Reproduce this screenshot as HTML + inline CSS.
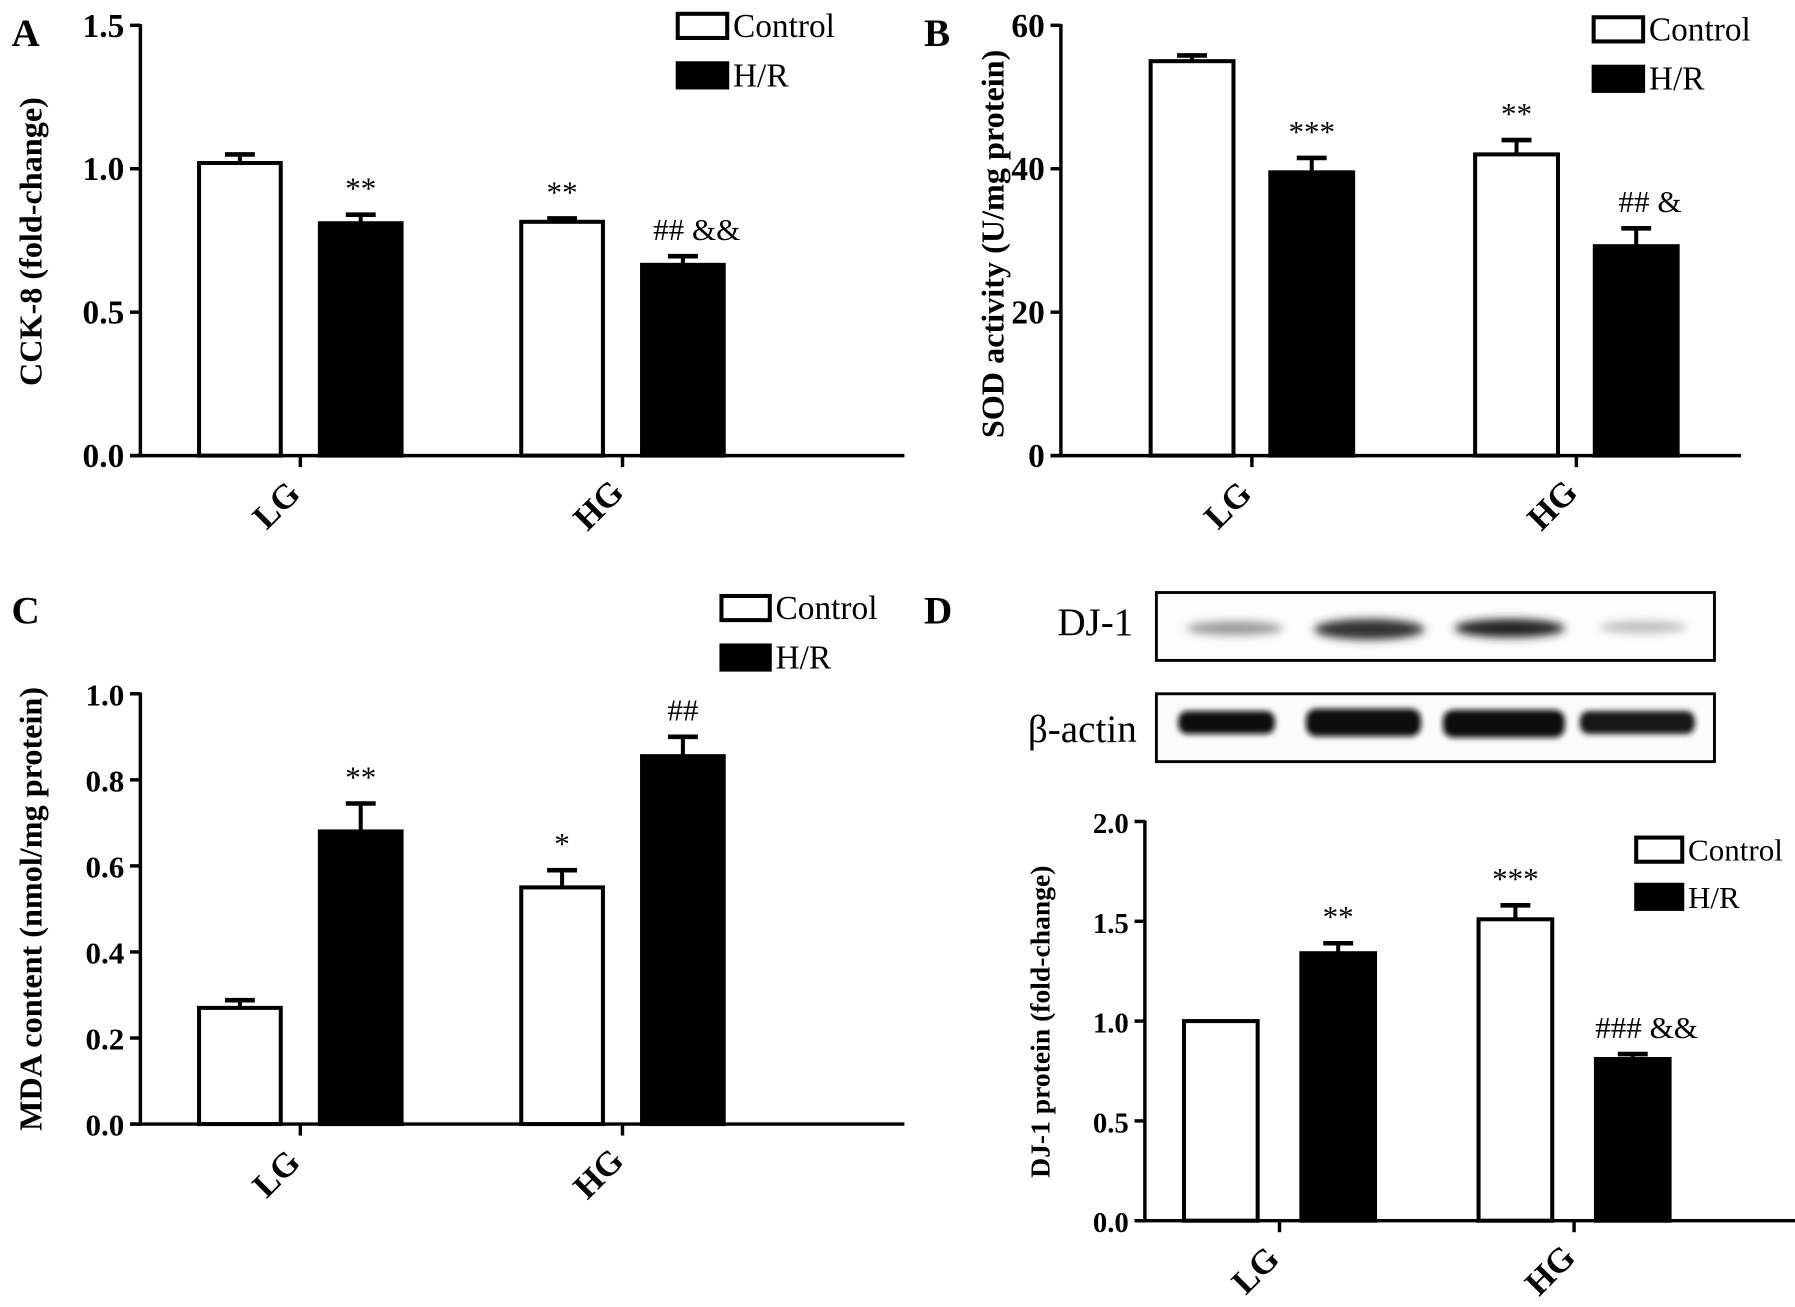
<!DOCTYPE html>
<html><head><meta charset="utf-8"><style>
html,body{margin:0;padding:0;background:#fff;}
svg{display:block;font-family:"Liberation Serif",serif;}
</style></head><body>
<svg id="fig" width="1795" height="1307" viewBox="0 0 1560 1136" preserveAspectRatio="none" xmlns="http://www.w3.org/2000/svg">
<rect width="1560" height="1136" fill="#fff"/>
<g>
<defs>
<filter id="blur1" x="-20%" y="-50%" width="140%" height="200%"><feGaussianBlur stdDeviation="4"/></filter>
<filter id="blur2" x="-20%" y="-50%" width="140%" height="200%"><feGaussianBlur stdDeviation="2.5"/></filter>
</defs>
<text x="985" y="552" text-anchor="end" font-size="34">DJ-1</text>
<text x="988" y="645" text-anchor="end" font-size="34">β-actin</text>
<rect x="1005" y="515" width="485" height="59" fill="#fdfdfd" stroke="#000" stroke-width="2.5"/>
<rect x="1005" y="603" width="485" height="59" fill="#fbfbfb" stroke="#000" stroke-width="2.5"/>
<g filter="url(#blur1)">
<ellipse cx="1073" cy="546" rx="42" ry="6" fill="#999"/>
<ellipse cx="1190" cy="547" rx="48" ry="9" fill="#333"/>
<ellipse cx="1312" cy="546" rx="48" ry="8" fill="#222"/>
<ellipse cx="1428" cy="545" rx="38" ry="5" fill="#bbb"/>
</g>
<g filter="url(#blur2)">
<rect x="1024" y="618" width="84" height="20" rx="8" fill="#111"/>
<rect x="1135" y="616" width="100" height="24" rx="9" fill="#0a0a0a"/>
<rect x="1254" y="617" width="106" height="24" rx="9" fill="#111"/>
<rect x="1373" y="618" width="100" height="20" rx="8" fill="#151515"/>
</g>
</g>
<g id="panels"></g>
</svg>
<script>
// Panel A
const catsA = ["LG","HG"];
const ctrlA = [1.02, 0.815];
const hrA = [0.81, 0.665];
const ctrlErrA = [0.03, 0.012];
const hrErrA = [0.03, 0.03];
const ticksA = ["0.0","0.5","1.0","1.5"];
const sigCtrlA = ["", "**"];
const sigHrA = ["**", "## &&"];
// Panel B
const catsB = ["LG","HG"];
const ctrlB = [55, 42];
const hrB = [39.5, 29.2];
const ctrlErrB = [0.8, 2];
const hrErrB = [2, 2.5];
const ticksB = ["0","20","40","60"];
const sigCtrlB = ["", "**"];
const sigHrB = ["***", "## &"];
// Panel C
const catsC = ["LG","HG"];
const ctrlC = [0.27, 0.55];
const hrC = [0.68, 0.855];
const ctrlErrC = [0.018, 0.04];
const hrErrC = [0.065, 0.045];
const ticksC = ["0.0","0.2","0.4","0.6","0.8","1.0"];
const sigCtrlC = ["", "*"];
const sigHrC = ["**", "##"];
// Panel D
const catsD = ["LG","HG"];
const ctrlD = [1.0, 1.51];
const hrD = [1.34, 0.81];
const ctrlErrD = [0, 0.07];
const hrErrD = [0.05, 0.025];
const ticksD = ["0.0","0.5","1.0","1.5","2.0"];
const sigCtrlD = ["", "***"];
const sigHrD = ["**", "### &&"];

const NS = "http://www.w3.org/2000/svg";
const root = document.getElementById("panels");
function mk(tag, attrs, parent, text){
  const e = document.createElementNS(NS, tag);
  for (const k in attrs) e.setAttribute(k, attrs[k]);
  if (text !== undefined) e.textContent = text;
  (parent||root).appendChild(e);
  return e;
}
function panel(cfg){
  const g = mk("g", {});
  
  
  const ymax = parseFloat(cfg.ticks[cfg.ticks.length-1]);
  const y = v => cfg.y0 - (v / ymax) * (cfg.y0 - cfg.ytop);
  const L = mk("text", {x: cfg.letterX, y: cfg.letterY, "font-size": 34, "font-weight": "bold"}, g, cfg.letter);
  
  
  const bw = cfg.barW;
  cfg.cats.forEach((c, i) => {
    const cx = cfg.groupX[i];
    const series = [[cfg.ctrl, cfg.ctrlErr, "#fff", -1, cfg.sigCtrl, "control"], [cfg.hr, cfg.hrErr, "#000", 1, cfg.sigHr, "hr"]];
    series.forEach(s => {
      const vals = s[0], errs = s[1];
      const x0 = s[3] < 0 ? cx - cfg.gap/2 - bw : cx + cfg.gap/2;
      const top = y(vals[i]);
      if (errs[i] > 0) {
        const et = y(vals[i] + errs[i]);
        const el = mk("line", {x1: x0 + bw/2, x2: x0 + bw/2, y1: top, y2: et, stroke: "#000", "stroke-width": 3.5}, g);
        
        
        const cap = mk("line", {x1: x0 + bw/2 - 13, x2: x0 + bw/2 + 13, y1: et, y2: et, stroke: "#000", "stroke-width": 4}, g);
        
        
      }
      const r = mk("rect", {x: x0, y: top, width: bw, height: cfg.y0 - top, fill: s[2], stroke: "#000", "stroke-width": 3.5}, g);
      
      
      if (s[4][i]) {
        const et = y(vals[i] + errs[i]);
        const t = mk("text", {x: x0 + bw/2 + (s[4][i].length > 3 ? 12 : 0), y: et - 14, "text-anchor": "middle", "font-size": 27}, g, s[4][i]);
        
        
      }
    });
    const tk = mk("line", {x1: cx, x2: cx, y1: cfg.y0, y2: cfg.y0 + 10, stroke: "#000", "stroke-width": 3}, g);
    
    
    const lx = cx - 14, ly = cfg.y0 + 50;
    const lt = mk("text", {x: lx, y: ly, "text-anchor": "middle", "font-size": 30, "font-weight": "bold", transform: "rotate(-45 " + lx + " " + ly + ")"}, g, c);
    
    
  });
  const ya = mk("line", {x1: cfg.ax, x2: cfg.ax, y1: cfg.ytop - 1, y2: cfg.y0 + 1.5, stroke: "#000", "stroke-width": 3}, g);
  
  
  const xa = mk("line", {x1: cfg.ax - 9, x2: cfg.axEnd, y1: cfg.y0, y2: cfg.y0, stroke: "#000", "stroke-width": 3}, g);
  
  
  cfg.ticks.forEach(tv => {
    const yy = y(parseFloat(tv));
    const tl = mk("line", {x1: cfg.ax - 9, x2: cfg.ax, y1: yy, y2: yy, stroke: "#000", "stroke-width": 3}, g);
    
    
    const tt = mk("text", {x: cfg.ax - 14, y: yy + 10, "text-anchor": "end", "font-size": cfg.tickFs, "font-weight": "bold"}, g, tv);
    
    
  });
  const yl = mk("text", {x: cfg.ylx, y: cfg.yly, "text-anchor": "middle", "font-size": cfg.ylFs, "font-weight": "bold", transform: "rotate(-90 " + cfg.ylx + " " + cfg.yly + ")"}, g, cfg.ylabel);
  
  
  [["Control", "#fff", 0], ["H/R", "#000", 1]].forEach(le => {
    const ly = cfg.legY + le[2] * cfg.legDy;
    const lg = mk("g", {}, g);
    
    
    mk("rect", {x: cfg.legX, y: ly, width: cfg.legW, height: 21, fill: le[1], stroke: "#000", "stroke-width": 3.5}, lg);
    mk("text", {x: cfg.legX + cfg.legW + 5, y: ly + 20, "font-size": cfg.legFs}, lg, le[0]);
  });
}
panel({id: "panel-a-cck8", letter: "A", letterX: 10, letterY: 40, cats: catsA, ctrl: ctrlA, hr: hrA, ctrlErr: ctrlErrA, hrErr: hrErrA, sigCtrl: sigCtrlA, sigHr: sigHrA, ticks: ticksA,
  ax: 122, axEnd: 786, y0: 396, ytop: 22, barW: 71, gap: 34, groupX: [261, 541], tickFs: 29, ylabel: "CCK-8 (fold-change)", ylx: 36, yly: 210, ylFs: 28,
  legX: 589, legY: 12, legDy: 43, legW: 43, legFs: 29});
panel({id: "panel-b-sod", letter: "B", letterX: 803, letterY: 40, cats: catsB, ctrl: ctrlB, hr: hrB, ctrlErr: ctrlErrB, hrErr: hrErrB, sigCtrl: sigCtrlB, sigHr: sigHrB, ticks: ticksB,
  ax: 922, axEnd: 1513, y0: 396, ytop: 22, barW: 72, gap: 32, groupX: [1088, 1370], tickFs: 29, ylabel: "SOD activity (U/mg protein)", ylx: 872, yly: 212, ylFs: 28,
  legX: 1385, legY: 15, legDy: 43, legW: 43, legFs: 29});
panel({id: "panel-c-mda", letter: "C", letterX: 10, letterY: 542, cats: catsC, ctrl: ctrlC, hr: hrC, ctrlErr: ctrlErrC, hrErr: hrErrC, sigCtrl: sigCtrlC, sigHr: sigHrC, ticks: ticksC,
  ax: 122, axEnd: 786, y0: 977, ytop: 603, barW: 71, gap: 34, groupX: [261, 541], tickFs: 27, ylabel: "MDA content (nmol/mg protein)", ylx: 36, yly: 790, ylFs: 28,
  legX: 627, legY: 518, legDy: 43, legW: 42, legFs: 29});
panel({id: "panel-d-dj1", letter: "D", letterX: 803, letterY: 542, cats: catsD, ctrl: ctrlD, hr: hrD, ctrlErr: ctrlErrD, hrErr: hrErrD, sigCtrl: sigCtrlD, sigHr: sigHrD, ticks: ticksD,
  ax: 995, axEnd: 1562, y0: 1061, ytop: 714, barW: 64, gap: 38, groupX: [1112, 1368], tickFs: 25, ylabel: "DJ-1 protein (fold-change)", ylx: 912, yly: 888, ylFs: 24,
  legX: 1422, legY: 728, legDy: 41, legW: 40, legFs: 27});
</script>
</body></html>
